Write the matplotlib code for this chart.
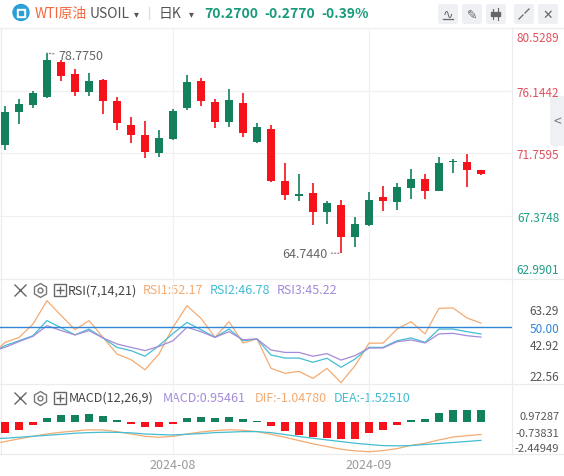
import numpy as np
import matplotlib
matplotlib.use('Agg')
import matplotlib.pyplot as plt
from matplotlib.patches import Circle, FancyBboxPatch
from matplotlib.transforms import ScaledTranslation

plt.rcParams['font.family'] = ['Noto Sans CJK SC', 'DejaVu Sans']

# ---- data (daily candles, WTI / USOIL) ----
opens = [72.36, 74.67, 75.14, 75.70, 78.14, 77.32, 76.07, 76.90, 75.40, 73.74,
         73.04, 71.79, 72.76, 74.93, 76.83, 75.35, 73.97, 75.28, 72.57, 73.46,
         69.81, 68.78, 68.97, 67.65, 68.12, 65.86, 66.74, 68.66, 68.31, 69.34,
         69.95, 69.13, 71.12, 71.12, 70.547]
closes = [74.63, 75.19, 75.98, 78.30, 77.20, 76.07, 76.80, 75.44, 73.86, 73.06,
          71.86, 72.80, 74.72, 76.76, 75.42, 73.97, 75.47, 73.20, 73.60, 69.81,
          68.85, 68.90, 67.65, 68.24, 65.86, 66.77, 68.47, 68.43, 69.37, 69.95,
          69.13, 71.07, 71.19, 70.547, 70.27]
highs = [75.09, 75.56, 76.14, 78.775, 78.32, 77.67, 77.37, 76.97, 75.72, 74.28,
         74.02, 73.39, 74.86, 77.27, 77.04, 75.56, 76.26, 75.98, 73.90, 73.74,
         71.05, 70.30, 69.67, 68.43, 68.50, 67.26, 69.01, 69.44, 69.67, 70.65,
         70.30, 71.51, 71.35, 71.70, 70.58]
lows = [71.98, 73.81, 74.95, 75.63, 76.85, 75.79, 75.79, 74.51, 73.39, 72.47,
        71.40, 71.51, 72.68, 74.79, 75.09, 73.53, 73.60, 72.90, 72.47, 69.76,
        68.50, 68.43, 66.72, 66.81, 64.744, 65.16, 66.67, 67.72, 67.79, 68.54,
        68.54, 69.10, 70.35, 69.41, 70.24]
price_ticks = [80.5289, 76.1442, 71.7595, 67.3748, 62.9901]
hi_mark = (3, 78.7750)
lo_mark = (24, 64.7440)

# indicators start one bar before the first visible candle
rsi1 = [36.0, 42.6, 45.0, 51.7, 63.29, 56.0, 48.9, 53.4, 45.1, 36.8, 34.0,
        29.0, 36.8, 50.1, 60.8, 54.5, 45.1, 52.9, 42.3, 44.3, 29.7,
        27.2, 28.2, 24.7, 29.7, 22.56, 31.0, 42.2, 42.2, 49.2, 52.9,
        46.8, 59.5, 59.7, 54.7, 52.17]
rsi2 = [37.0, 41.0, 43.4, 45.9, 53.4, 49.9, 46.3, 49.2, 44.8, 40.1, 38.5,
        35.7, 41.0, 47.0, 52.5, 48.9, 45.1, 49.2, 43.4, 44.3, 36.3,
        34.8, 34.8, 32.7, 34.7, 30.2, 34.3, 40.1, 40.1, 43.4, 44.8,
        42.6, 49.2, 49.2, 47.9, 46.78]
rsi3 = [38.0, 40.1, 43.0, 45.6, 50.9, 48.5, 46.3, 48.4, 44.8, 41.8, 40.1,
        38.5, 40.6, 43.4, 50.1, 47.9, 45.1, 47.9, 43.9, 44.3, 38.8,
        37.6, 37.6, 35.7, 37.0, 33.8, 36.0, 39.8, 39.8, 42.9, 43.8,
        42.3, 46.8, 47.1, 45.9, 45.22]
rsi_ticks = [63.29, 50.00, 42.92, 22.56]

macd_hist = [-0.94, -0.64, -0.23, 0.29, 0.56, 0.56, 0.64, 0.45, 0.15, -0.18,
             -0.45, -0.45, -0.18, 0.31, 0.37, 0.31, 0.37, 0.26, 0.08, -0.37,
             -0.72, -1.05, -1.21, -1.32, -1.44, -1.40, -0.94, -0.64, -0.23, 0.12,
             0.20, 0.69, 0.97287, 0.96, 0.95461]
dif = [-1.82, -1.62, -1.40, -1.19, -1.00, -0.86, -0.76, -0.66, -0.67, -0.81,
       -1.00, -1.19, -1.27, -1.19, -1.00, -0.84, -0.73, -0.65, -0.70, -0.81,
       -1.03, -1.27, -1.54, -1.81, -2.03, -2.25, -2.38, -2.44949, -2.36, -2.20,
       -1.93, -1.76, -1.49, -1.25, -1.14, -1.0478]
dea = [-1.38, -1.35, -1.27, -1.19, -1.11, -1.03, -0.94, -0.89, -0.86, -0.87,
       -0.91, -1.00, -1.05, -1.08, -1.03, -0.97, -0.89, -0.85, -0.81, -0.81,
       -0.89, -1.05, -1.21, -1.35, -1.49, -1.62, -1.76, -1.86, -1.95, -1.97,
       -1.95, -1.86, -1.78, -1.70, -1.61, -1.5251]
macd_ticks = [0.97287, -0.73831, -2.44949]

month_pos = [12, 26]
month_labels = ['2024-08', '2024-09']

# ---- colours ----
UP, DOWN = '#13805e', '#f5121a'
GRID = '#f0f0f0'
C_RSI1, C_RSI2, C_RSI3 = '#f4ab72', '#43bdd3', '#a48bd9'
TXT = '#555555'

W, H = 564, 477
fig = plt.figure(figsize=(W / 100, H / 100), dpi=100)


def box(x0, y0, x1, y1):
    return [x0 / W, 1 - y1 / H, (x1 - x0) / W, (y1 - y0) / H]


def pad_ylim(vmax, vmin, y_top, y_bot, p_top, p_bot):
    # value range maps to pixel rows y_top..y_bot inside panel p_top..p_bot
    k = (vmax - vmin) / (y_bot - y_top)
    return vmin - (p_bot - y_bot) * k, vmax + (y_top - p_top) * k


deco = fig.add_axes([0, 0, 1, 1])
deco.set_xlim(0, W)
deco.set_ylim(H, 0)
deco.axis('off')

ax = fig.add_axes(box(0, 29.2, 512, 279.2))
ax_rsi = fig.add_axes(box(0, 280, 512, 385))
ax_macd = fig.add_axes(box(0, 385, 512, 455))

xlo, xhi = -5 / 14, (512 - 5) / 14
for a in (ax, ax_rsi, ax_macd):
    a.set_facecolor('none')
    a.set_xlim(xlo, xhi)
    for s in a.spines.values():
        s.set_visible(False)
    a.spines['right'].set_visible(True)
    a.spines['right'].set_color('#ececec')
    for m in month_pos:
        a.axvline(m, color=GRID, lw=0.9, zorder=0)
    a.yaxis.tick_right()
    a.tick_params(axis='y', length=0, pad=34, labelsize=8.5)
    a.tick_params(axis='x', length=0)


def style_labels(a, colors, shifts):
    # shifts: vertical nudge per label, in pixels (negative = down)
    labs = a.get_yticklabels()
    for j, lab in enumerate(labs):
        lab.set_ha('right')
        lab.set_color(colors[j])
        if shifts[j]:
            lab.set_transform(lab.get_transform() +
                              ScaledTranslation(0, shifts[j] * 0.72 / 72, fig.dpi_scale_trans))
    labs[0].set_va('top')
    labs[-1].set_va('bottom')


# ---- candles ----
x = np.arange(len(closes))
o, c, h, l = map(np.array, (opens, closes, highs, lows))
col = np.where(c >= o, UP, DOWN)
ax.vlines(x, l, h, colors=col, lw=1.2, zorder=2)
ax.bar(x, np.maximum(np.abs(c - o), 0.07), bottom=np.minimum(o, c), width=0.64,
       color=col, zorder=3)
ax.set_ylim(price_ticks[-1], price_ticks[0])
ax.set_yticks(price_ticks)
ax.set_yticklabels([f'{v:.4f}' for v in price_ticks])
ax.grid(axis='y', color=GRID, lw=0.9, zorder=0)
ax.set_xticks([])
style_labels(ax, [('#e0505c' if v > c[-1] else '#1f9e86') for v in price_ticks],
             [-3, 0, 0, 0, 2])

ax.annotate(f'{hi_mark[1]:.4f}', xy=hi_mark, xytext=(8, -2), textcoords='offset points',
            ha='left', va='center', fontsize=9, color='#666666',
            arrowprops=dict(arrowstyle='-', ls=(0, (1, 1.6)), color='#888888',
                            shrinkA=1, shrinkB=0, lw=0.9))
ax.annotate(f'{lo_mark[1]:.4f}', xy=lo_mark, xytext=(-10, 0), textcoords='offset points',
            ha='right', va='center', fontsize=9, color='#666666',
            arrowprops=dict(arrowstyle='-', ls=(0, (1, 1.6)), color='#888888',
                            shrinkA=1, shrinkB=0, lw=0.9))

# ---- RSI ----
xi = np.arange(-1, len(closes))
ax_rsi.plot(xi, rsi1, color=C_RSI1, lw=0.9)
ax_rsi.plot(xi, rsi2, color=C_RSI2, lw=0.9)
ax_rsi.plot(xi, rsi3, color=C_RSI3, lw=0.9)
ax_rsi.axhline(50, color='#2f86d6', lw=1.0)
ax_rsi.set_ylim(*pad_ylim(max(rsi_ticks), min(rsi_ticks), 301.7, 383.7, 280, 385))
ax_rsi.set_yticks(rsi_ticks)
ax_rsi.set_yticklabels([f'{v:.2f}' for v in rsi_ticks])
ax_rsi.set_xticks([])
style_labels(ax_rsi, [TXT, '#2f86d6', TXT, TXT], [-3, 0, -2, 0])

# ---- MACD ----
hist = np.array(macd_hist)
ax_macd.bar(x, hist, width=0.62, color=np.where(hist >= 0, UP, DOWN), zorder=2)
ax_macd.plot(xi, dif, color='#f4ab72', lw=0.9, zorder=3)
ax_macd.plot(xi, dea, color='#43bdd3', lw=0.9, zorder=3)
ax_macd.set_ylim(*pad_ylim(max(macd_ticks), min(macd_ticks), 410.8, 452.7, 385, 455))
ax_macd.set_yticks(macd_ticks)
ax_macd.set_yticklabels([f'{v:.5f}' for v in macd_ticks])
ax_macd.tick_params(axis='y', labelsize=8)
style_labels(ax_macd, [TXT] * 3, [-1, -1.5, -1])
ax_macd.set_xticks(month_pos)
ax_macd.set_xticklabels(month_labels, fontsize=9, color='#9a9a9a')
ax_macd.tick_params(axis='x', pad=3)

# ---- frame lines ----
for yy in (28.5, 279.7, 385, 455):
    deco.plot([0, W], [yy, yy], color='#ececec', lw=0.9)
deco.plot([0.5, 0.5], [28.5, 455], color='#ececec', lw=0.9)

# ---- header ----
deco.add_patch(Circle((21, 13.5), 8, color='#2a9fd8'))
deco.plot(21, 13.5, marker='s', ms=6, color='white')
deco.plot(21, 13.5, marker='s', ms=2.5, color='#2a9fd8')
deco.text(35, 14, 'WTI原油', fontsize=10, color='#f2683f', va='center')
deco.text(90, 14, 'USOIL', fontsize=10, color=TXT, va='center')
deco.text(136, 14, '▾', fontsize=7, color=TXT, va='center', ha='center')
deco.plot([149, 149], [8, 20], color='#dddddd', lw=0.9)
deco.text(159, 14, '日K', fontsize=10, color=TXT, va='center')
deco.text(191, 14, '▾', fontsize=7, color=TXT, va='center', ha='center')
chg = closes[-1] - closes[-2]
green_txt = '#179b7b'
deco.text(204, 14, f'{closes[-1]:.4f}', fontsize=10, weight='bold', color=green_txt, va='center')
deco.text(264, 14, f'{chg:.4f}', fontsize=10, weight='bold', color=green_txt, va='center')
deco.text(321, 14, f'{chg / closes[-2] * 100:.2f}%', fontsize=10, weight='bold', color=green_txt, va='center')

icons = ['∿', '✎', '', '', '✕']
for bx, ic in zip([438, 462, 486, 514, 538], icons):
    deco.add_patch(FancyBboxPatch((bx, 5), 20, 20, boxstyle='round,pad=0,rounding_size=2.5',
                                  fc='#eef0f3', ec='none'))
    if ic:
        deco.text(bx + 10, 15, ic, fontsize=9, color='#666666', ha='center', va='center',
                  family='DejaVu Sans')
deco.plot([443, 453], [20, 20], color='#666666', lw=0.9)
deco.plot([493, 493], [10, 20], color='#666666', lw=0.8)
deco.plot([498, 498], [9, 21], color='#666666', lw=0.8)
deco.plot(493, 15, marker='s', ms=3.5, color='#666666')
deco.plot(498, 15, marker='s', ms=3.5, color='#666666')
deco.plot([519, 523], [20, 16], color='#666666', lw=0.9)
deco.plot([525, 529], [14, 10], color='#666666', lw=0.9)

# collapse tab on the right
deco.add_patch(FancyBboxPatch((550, 97), 20, 50, boxstyle='round,pad=0,rounding_size=3',
                              fc='#eef0f3', ec='none'))
deco.text(557, 122, '<', fontsize=10, color='#777777', ha='center', va='center')


# ---- indicator legends ----
def legend_icons(yy):
    deco.plot(20, yy, marker='x', ms=8, mew=1.0, color='#666666')
    deco.plot(40, yy, marker='h', ms=10, mfc='none', mec='#777777', mew=1.0)
    deco.plot(40, yy, marker='o', ms=3.5, mfc='none', mec='#777777', mew=1.0)
    deco.plot(60, yy, marker='s', ms=9, mfc='none', mec='#666666', mew=1.0)
    deco.plot(60, yy, marker='+', ms=6, mew=1.0, color='#666666')


legend_icons(291)
deco.text(68, 291, 'RSI(7,14,21)', fontsize=9, color='#444444', va='center')
deco.text(143, 291, f'RSI1:{rsi1[-1]:.2f}', fontsize=9, color=C_RSI1, va='center')
deco.text(210, 291, f'RSI2:{rsi2[-1]:.2f}', fontsize=9, color=C_RSI2, va='center')
deco.text(277, 291, f'RSI3:{rsi3[-1]:.2f}', fontsize=9, color=C_RSI3, va='center')

legend_icons(398.5)
deco.text(69, 398.5, 'MACD(12,26,9)', fontsize=9, color='#444444', va='center')
deco.text(163, 398.5, f'MACD:{macd_hist[-1]:.5f}', fontsize=9, color=C_RSI3, va='center')
deco.text(255, 398.5, f'DIF:{dif[-1]:.5f}', fontsize=9, color=C_RSI1, va='center')
deco.text(334, 398.5, f'DEA:{dea[-1]:.5f}', fontsize=9, color=C_RSI2, va='center')

fig.savefig('out.png', dpi=100)
